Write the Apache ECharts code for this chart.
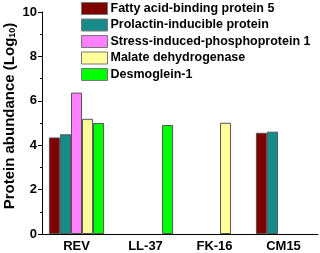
<!DOCTYPE html>
<html>
<head>
<meta charset="utf-8">
<script src="https://cdn.jsdelivr.net/npm/echarts@6/dist/echarts.min.js"></script>
<style>
  html, body { margin: 0; padding: 0; background: #fff; }
  #chart { width: 320px; height: 253px; }
</style>
</head>
<body>
<div id="chart"></div>
<script>
// 样品分组
var categories = ['REV', 'LL-37', 'FK-16', 'CM15']
// 各蛋白丰度 (Log10)，无数据用 null
var fabp5 = [4.35, null, null, 4.56]
var prolactin = [4.49, null, null, 4.61]
var stip1 = [6.37, null, null, null]
var malate = [5.19, null, 5.01, null]
var desmoglein = [5.0, 4.91, null, null]
var seriesNames = ['Fatty acid-binding protein 5', 'Prolactin-inducible protein', 'Stress-induced-phosphoprotein 1', 'Malate dehydrogenase', 'Desmoglein-1']
var yTicks = [0, 2, 4, 6, 8, 10]

var dom = document.getElementById('chart')
var myChart = echarts.init(dom)

var fontFamily = 'Liberation Sans, Arial, sans-serif'
var colors = ['#7f0000', '#178a8a', '#ff80ff', '#ffff99', '#00ff00']

function initSeries(list) {
    return list.map(function (data, index) {
        return {
            type: 'bar',
            name: seriesNames[index],
            data: data,
            barGap: '0%',
            barCategoryGap: '20%',
            itemStyle: {
                color: colors[index],
                borderColor: '#555',
                borderWidth: 1
            }
        }
    })
}

myChart.setOption({
    animation: false,
    color: colors,
    grid: {
        left: 42,
        right: 2,
        top: 12,
        bottom: 19,
        outerBoundsMode: 'none'
    },
    legend: {
        orient: 'vertical',
        left: 81,
        top: 2,
        padding: 0,
        itemWidth: 26,
        itemHeight: 12,
        itemGap: 3.5,
        icon: 'rect',
        itemStyle: { borderColor: '#777', borderWidth: 1 },
        textStyle: {
            fontFamily: fontFamily,
            fontWeight: 'bold',
            fontSize: 12.5,
            color: '#000',
            padding: [0, 0, 0, -2]
        },
        data: seriesNames
    },
    xAxis: [{
        type: 'category',
        data: categories,
        axisLine: { lineStyle: { color: '#000', width: 1 } },
        axisTick: { alignWithLabel: true, length: 4, lineStyle: { color: '#000' } },
        axisLabel: {
            fontFamily: fontFamily,
            fontWeight: 'bold',
            fontSize: 13,
            color: '#000',
            margin: 6
        }
    }, {
        // 组间刻度
        type: 'category',
        data: categories,
        position: 'bottom',
        axisLine: { show: false },
        axisTick: { length: 4, lineStyle: { color: '#000' } },
        axisLabel: { show: false }
    }],
    yAxis: {
        type: 'value',
        min: 0,
        max: 10,
        interval: 2,
        name: '{t|Protein abundance (Log}{s|10}{t|)}',
        nameLocation: 'middle',
        nameGap: 32,
        nameMoveOverlap: false,
        nameTextStyle: {
            verticalAlign: 'middle',
            padding: [0, 0, 0, 14],
            rich: {
                t: { fontFamily: fontFamily, fontWeight: 'bold', fontSize: 15, color: '#000' },
                s: { fontFamily: fontFamily, fontWeight: 'bold', fontSize: 9, color: '#000', verticalAlign: 'bottom', padding: [6, 0, 0, 0] }
            }
        },
        axisLine: { show: true, lineStyle: { color: '#000', width: 1 } },
        axisTick: { show: true, length: 4, lineStyle: { color: '#000' } },
        minorTick: { show: true, splitNumber: 2, length: 2, lineStyle: { color: '#000' } },
        splitLine: { show: false },
        axisLabel: {
            fontFamily: fontFamily,
            fontWeight: 'bold',
            fontSize: 13,
            color: '#000',
            margin: 5,
            formatter: function (v) { return yTicks.indexOf(v) >= 0 ? v : '' }
        }
    },
    series: initSeries([fabp5, prolactin, stip1, malate, desmoglein])
})
</script>
</body>
</html>
